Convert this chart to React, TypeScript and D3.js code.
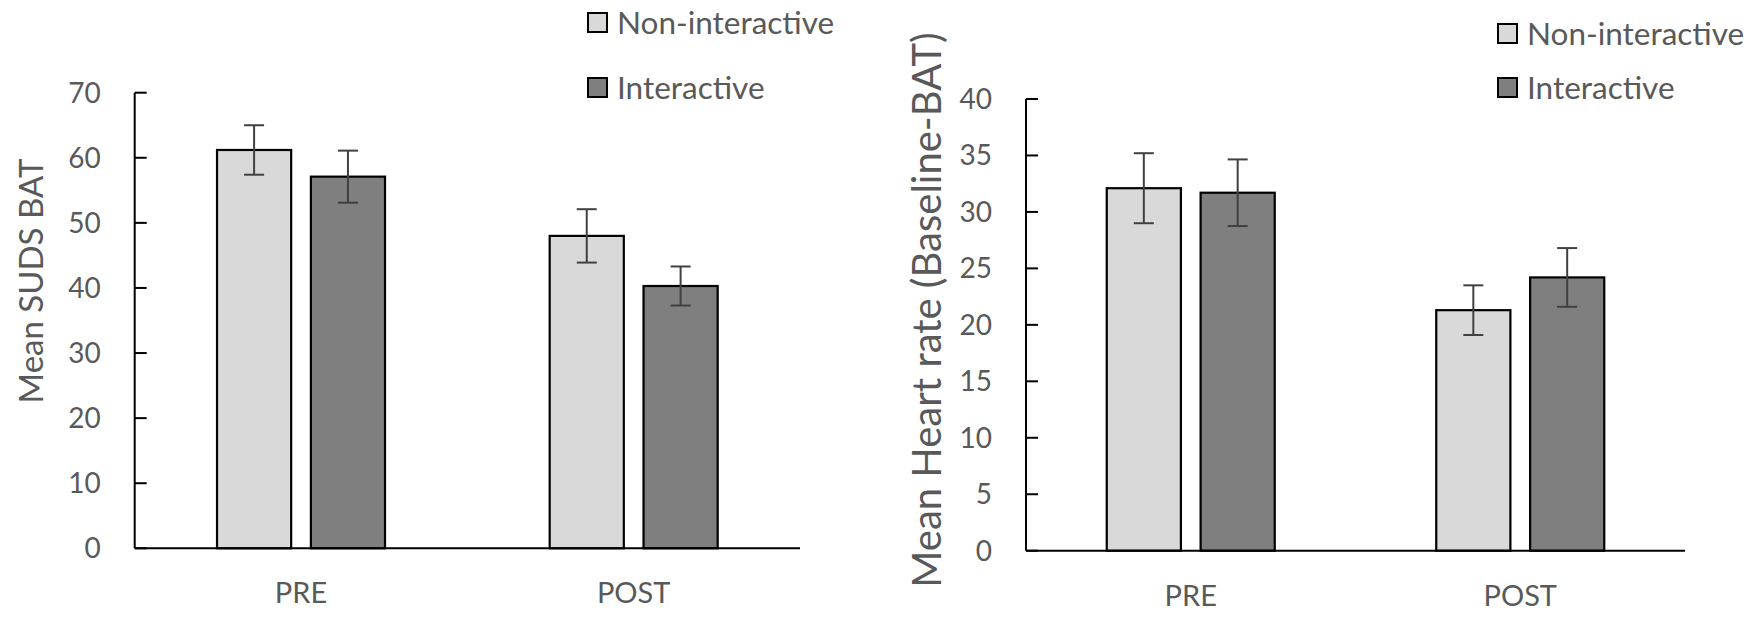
import * as d3 from 'd3'
import React from 'react'

// data
const categories = ['PRE', 'POST']
const series = ['Non-interactive', 'Interactive']
const sudsMeans = [
  [61.2, 57.1],
  [48.0, 40.3],
]
const sudsErrors = [
  [3.8, 4.0],
  [4.1, 3.0],
]
const hrMeans = [
  [32.1, 31.7],
  [21.3, 24.2],
]
const hrErrors = [
  [3.1, 2.95],
  [2.2, 2.6],
]
const sudsTicks = [0, 10, 20, 30, 40, 50, 60, 70]
const hrTicks = [0, 5, 10, 15, 20, 25, 30, 35, 40]

const colors = ['#d9d9d9', '#7f7f7f']
const textColor = '#595959'
const font = 'Lato, "Open Sans", sans-serif'

const Panel = (props) => {
  const { left, right, top, bottom, max, ticks, means, errors, title, titleX, titleY, titleSize, legendX, legendY } =
    props
  const x0 = d3.scaleBand().domain(categories).range([left, right]).paddingInner(0).paddingOuter(0)
  const groupW = 168
  const x1 = d3
    .scaleBand()
    .domain(series)
    .range([(x0.step() - groupW) / 2, (x0.step() + groupW) / 2])
    .paddingInner(0.21)
  const y = d3.scaleLinear().domain([0, max]).range([bottom, top])

  return (
    <g>
      {/* bars */}
      {categories.map((c, ci) => (
        <g key={c} transform={`translate(${x0(c)},0)`}>
          {series.map((s, si) => {
            const v = means[ci][si]
            const e = errors[ci][si]
            const cx = x1(s) + x1.bandwidth() / 2
            return (
              <g key={s}>
                <rect
                  x={x1(s)}
                  y={y(v)}
                  width={x1.bandwidth()}
                  height={y(0) - y(v)}
                  fill={colors[si]}
                  stroke="#000"
                  strokeWidth={2.2}
                />
                <g stroke="#404040" strokeWidth={2}>
                  <line x1={cx} x2={cx} y1={y(v + e)} y2={y(v - e)} />
                  <line x1={cx - 10} x2={cx + 10} y1={y(v + e)} y2={y(v + e)} />
                  <line x1={cx - 10} x2={cx + 10} y1={y(v - e)} y2={y(v - e)} />
                </g>
              </g>
            )
          })}
          <text
            x={x0.step() / 2}
            y={bottom + 55}
            textAnchor="middle"
            fill={textColor}
            fontSize={29}
            fontFamily={font}
          >
            {c}
          </text>
        </g>
      ))}
      {/* axes */}
      <line x1={left} x2={left} y1={top} y2={bottom} stroke="#000" strokeWidth={2} />
      <line x1={left} x2={right} y1={bottom} y2={bottom} stroke="#000" strokeWidth={2} />
      {ticks.map((t) => (
        <g key={t}>
          <line x1={left} x2={left + 12} y1={y(t)} y2={y(t)} stroke="#000" strokeWidth={2} />
          <text
            x={left - 34}
            y={y(t)}
            dy="0.35em"
            textAnchor="end"
            fill={textColor}
            fontSize={28}
            fontFamily={font}
          >
            {t}
          </text>
        </g>
      ))}
      <text
        transform={`translate(${titleX},${titleY}) rotate(-90)`}
        textAnchor="middle"
        fill={textColor}
        fontSize={titleSize}
        fontFamily={font}
      >
        {title}
      </text>
      {/* legend */}
      {series.map((s, si) => (
        <g key={s} transform={`translate(${legendX},${legendY[si]})`}>
          <rect x={0} y={-10} width={19} height={19} fill={colors[si]} stroke="#000" strokeWidth={2} />
          <text x={29} y={0} dy="0.36em" fill={textColor} fontSize={31.5} fontFamily={font}>
            {s}
          </text>
        </g>
      ))}
    </g>
  )
}

export default function App() {
  return (
    <svg width={1750} height={622} style={{ position: 'absolute', left: 0, top: 0, background: '#fff' }}>
      <Panel
        left={134.7}
        right={800}
        top={92.7}
        bottom={548.3}
        max={70}
        ticks={sudsTicks}
        means={sudsMeans}
        errors={sudsErrors}
        title="Mean SUDS BAT"
        titleX={43}
        titleY={281}
        titleSize={33}
        legendX={588}
        legendY={[23, 88]}
      />
      <Panel
        left={1026}
        right={1685}
        top={99}
        bottom={550.7}
        max={40}
        ticks={hrTicks}
        means={hrMeans}
        errors={hrErrors}
        title="Mean Heart rate (Baseline-BAT)"
        titleX={941}
        titleY={310}
        titleSize={40}
        legendX={1498}
        legendY={[34, 88]}
      />
    </svg>
  )
}
